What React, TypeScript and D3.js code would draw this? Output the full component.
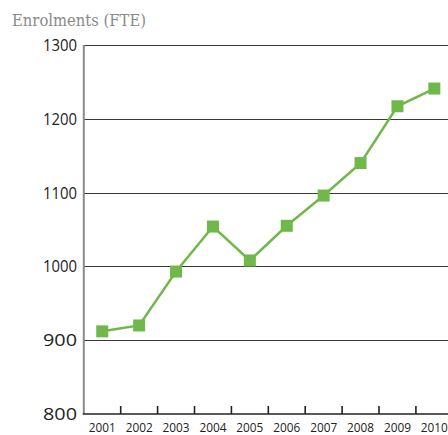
import React from "react";
import * as d3 from "d3";

const years = ["2001", "2002", "2003", "2004", "2005", "2006", "2007", "2008", "2009", "2010"];
const enrolments = [912, 920, 993, 1054, 1008, 1055, 1096, 1140, 1217, 1241];
const yTicks = [800, 900, 1000, 1100, 1200, 1300];
const title = "Enrolments (FTE)";

export default function App() {
  const W = 448, H = 435;
  const left = 83.8, bottom = 414, top = 45;
  const x = d3.scaleBand<string>().domain(years).range([left, left + 36.9 * years.length]);
  const y = d3.scaleLinear().domain([800, 1300]).range([bottom, top]);
  const line = d3.line<number>()
    .x((_, i) => (x(years[i]) as number) + x.bandwidth() / 2)
    .y((d) => y(d));
  const green = "#70b84a";
  const font = "'Open Sans', 'Noto Sans', sans-serif";
  return (
    <svg width={W} height={H} style={{ position: "absolute", left: 0, top: 0, background: "#fff" }}>
      <text x={12} y={26} fontFamily="'DejaVu Serif', serif" fontSize={17} fill="#8a8a8a" textLength={134} lengthAdjust="spacingAndGlyphs">{title}</text>
      {yTicks.filter((t) => t > 800).map((t) => (
        <line key={t} x1={left} x2={W} y1={Math.round(y(t)) + 0.5} y2={Math.round(y(t)) + 0.5} stroke="#3a3a3a" strokeWidth={1.2} />
      ))}
      {yTicks.map((t) => (
        <text key={t} x={77} y={y(t) + 6} textAnchor="end" fontFamily={font} fontSize={16} fill="#222" textLength={34} lengthAdjust="spacingAndGlyphs">{t}</text>
      ))}
      <line x1={left} x2={left} y1={top} y2={bottom} stroke="#8a8a8a" strokeWidth={2} />
      <line x1={left - 1} x2={W} y1={bottom} y2={bottom} stroke="#222" strokeWidth={1.6} />
      {years.slice(1).map((yr) => (
        <line key={yr} x1={x(yr) as number} x2={x(yr) as number} y1={bottom} y2={bottom - 8} stroke="#222" strokeWidth={1.6} />
      ))}
      {years.map((yr) => (
        <text key={yr} x={(x(yr) as number) + x.bandwidth() / 2} y={432} textAnchor="middle" fontFamily={font} fontSize={13.5} fill="#222" textLength={27} lengthAdjust="spacingAndGlyphs">{yr}</text>
      ))}
      <path d={line(enrolments) as string} fill="none" stroke={green} strokeWidth={2.5} />
      {enrolments.map((v, i) => (
        <rect key={i} x={(x(years[i]) as number) + x.bandwidth() / 2 - 6} y={y(v) - 6} width={12} height={12} fill={green} />
      ))}
    </svg>
  );
}
